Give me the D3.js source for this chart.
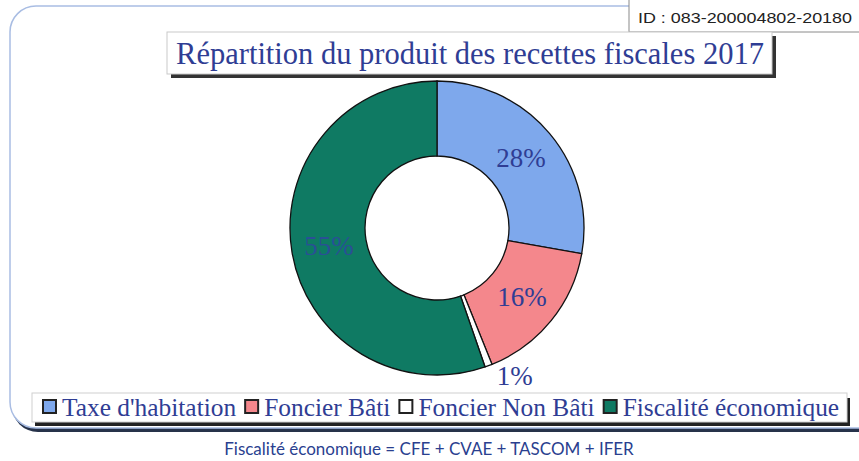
<!DOCTYPE html>
<html>
<head>
<meta charset="utf-8">
<script src="https://cdn.jsdelivr.net/npm/d3@7"></script>
<style>
  body { margin: 0; background: #fff; }
  #chart { width: 859px; height: 461px; }
</style>
</head>
<body>
<div id="chart"></div>
<script>
let categories = ["Taxe d'habitation", "Foncier Bâti", "Foncier Non Bâti", "Fiscalité économique"];
let values = [27.8, 16.1, 0.8, 55.3]; // % du produit
let colors = ["#7ea8ec", "#f4878c", "#ffffff", "#0f7a63"];
let title = "Répartition du produit des recettes fiscales 2017";
let footnote = "Fiscalité économique = CFE + CVAE + TASCOM + IFER";
let idText = "ID : 083-200004802-20180";

let width = 859, height = 461;
let textBlue = "#2f3d94";

let svg = d3.select("#chart").append("svg")
    .attr("width", width)
    .attr("height", height);

// cadre arrondi (ombre + bord bleu clair)
svg.append("rect")
    .attr("x", 12).attr("y", 10)
    .attr("width", 880).attr("height", 422)
    .attr("rx", 26)
    .attr("fill", "#26324a");
svg.append("rect")
    .attr("x", 10).attr("y", 6)
    .attr("width", 880).attr("height", 422)
    .attr("rx", 26)
    .attr("fill", "#fff")
    .attr("stroke", "#a9bde3")
    .attr("stroke-width", 1.5);

// tampon ID en haut a droite
svg.append("rect")
    .attr("x", 629).attr("y", -5)
    .attr("width", 260).attr("height", 37)
    .attr("fill", "#fff")
    .attr("stroke", "#8a8a8a")
    .attr("stroke-width", 1);
svg.append("text")
    .text(idText)
    .attr("x", 638).attr("y", 23)
    .attr("font-family", "Liberation Sans, Arial, sans-serif")
    .attr("font-size", 15.5)
    .attr("textLength", 214)
    .attr("lengthAdjust", "spacingAndGlyphs")
    .attr("fill", "#222");

// titre dans sa boite
svg.append("rect")
    .attr("x", 171).attr("y", 36)
    .attr("width", 605).attr("height", 42)
    .attr("fill", "#333");
svg.append("rect")
    .attr("x", 167).attr("y", 32)
    .attr("width", 605).attr("height", 42)
    .attr("fill", "#fff")
    .attr("stroke", "#c9c9c9")
    .attr("stroke-width", 1);
svg.append("text")
    .text(title)
    .attr("x", 470).attr("y", 64)
    .attr("text-anchor", "middle")
    .attr("font-family", "Liberation Serif, Times New Roman, serif")
    .attr("font-size", 30.5)
    .attr("fill", textBlue);

// anneau
let cx = 437, cy = 228;
let outerR = 147, innerR = 72;

let pie = d3.pie().sort(null).value(d => d.value);
let arc = d3.arc().innerRadius(innerR).outerRadius(outerR);
let labelArc = d3.arc().innerRadius(innerR).outerRadius(outerR);
let fmt = d3.format(".0%");

let slices = categories.map((c, i) => ({ name: c, value: values[i], color: colors[i] }));
let arcs = pie(slices);

let g = svg.append("g").attr("transform", `translate(${cx},${cy})`);

g.selectAll(".slice")
    .data(arcs)
    .enter()
    .append("path")
    .attr("class", "slice")
    .attr("d", arc)
    .attr("fill", d => d.data.color)
    .attr("stroke", "#111")
    .attr("stroke-width", 1.3);

g.selectAll(".lbl")
    .data(arcs)
    .enter()
    .append("text")
    .attr("class", "lbl")
    .text(d => fmt(d.data.value / 100))
    .attr("transform", d => {
        let p = labelArc.centroid(d);
        if (d.data.value < 2) {
            // petite part : etiquette sortie sous l'anneau
            let a = (d.startAngle + d.endAngle) / 2;
            p = [Math.sin(a) * (outerR + 12) + 22, -Math.cos(a) * (outerR + 12) - 1];
        }
        return `translate(${p[0]},${p[1]})`;
    })
    .attr("text-anchor", "middle")
    .attr("dy", "0.33em")
    .attr("font-family", "Liberation Serif, Times New Roman, serif")
    .attr("font-size", 27)
    .attr("fill", d => d.data.color === "#0f7a63" ? "#2a4f96" : textBlue);

// legende
svg.append("rect")
    .attr("x", 35).attr("y", 398)
    .attr("width", 815).attr("height", 28)
    .attr("fill", "#222");
svg.append("rect")
    .attr("x", 32).attr("y", 393)
    .attr("width", 815).attr("height", 29)
    .attr("fill", "#fff")
    .attr("stroke", "#cfcfcf")
    .attr("stroke-width", 1);

let lx = 43;
slices.forEach(s => {
    svg.append("rect")
        .attr("x", lx).attr("y", 400)
        .attr("width", 13).attr("height", 13)
        .attr("fill", s.color)
        .attr("stroke", "#222")
        .attr("stroke-width", 2);
    let t = svg.append("text")
        .text(s.name)
        .attr("x", lx + 19).attr("y", 416)
        .attr("font-family", "Liberation Serif, Times New Roman, serif")
        .attr("font-size", 25.4)
        .attr("fill", textBlue);
    lx += 19 + t.node().getComputedTextLength() + 9;
});

// note
svg.append("text")
    .text(footnote)
    .attr("x", 429).attr("y", 455)
    .attr("text-anchor", "middle")
    .attr("font-family", "Lato, Open Sans, sans-serif")
    .attr("font-size", 17)
    .attr("fill", "#2a3f8f");
</script>
</body>
</html>
